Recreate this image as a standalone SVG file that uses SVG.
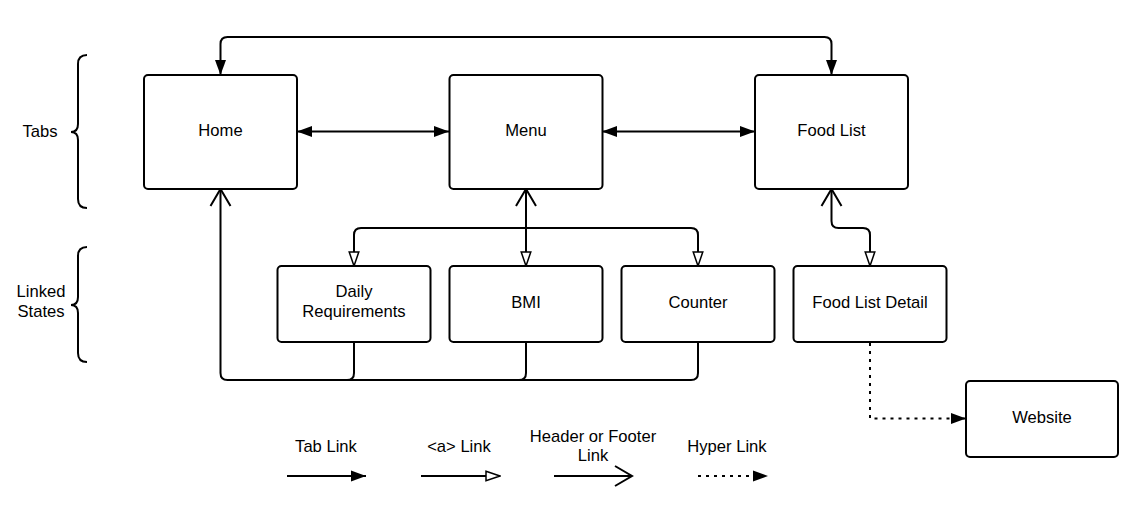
<svg xmlns="http://www.w3.org/2000/svg" width="1147" height="513" viewBox="0 0 1147 513">
<style>
.box{fill:#fff;stroke:#000;stroke-width:2}
.ln{fill:none;stroke:#000;stroke-width:2}
.dot{fill:none;stroke:#000;stroke-width:2;stroke-dasharray:3 5}
text{font-family:"Liberation Sans",Arial,sans-serif;font-size:16.6px;fill:#000;text-anchor:middle}
</style>
<defs>
<marker id="tab" markerUnits="userSpaceOnUse" viewBox="0 0 15 12" refX="15" refY="6" markerWidth="15" markerHeight="12" orient="auto-start-reverse"><path d="M0,0.5 L15,6 L0,11.5 z" fill="#000"/></marker>
<marker id="alink" markerUnits="userSpaceOnUse" viewBox="0 0 16 12" refX="15" refY="6" markerWidth="16" markerHeight="12" orient="auto-start-reverse"><path d="M1,1.2 L15,6 L1,10.8 z" fill="#fff" stroke="#000" stroke-width="1.5"/></marker>
<marker id="hf" markerUnits="userSpaceOnUse" viewBox="0 0 20 24" refX="18" refY="12" markerWidth="20" markerHeight="24" orient="auto-start-reverse"><path d="M1,2 L18,12 L1,22" fill="none" stroke="#000" stroke-width="2"/></marker>
</defs>

<g id="braces" class="ln">
<path class="ln" d="M87,55 Q78,55 78,64 L78,124 Q78,132 71,132 Q78,132 78,140 L78,199 Q78,208 87,208"/>
<path class="ln" d="M87,247 Q78,247 78,256 L78,297 Q78,305 71,305 Q78,305 78,313 L78,353 Q78,362 87,362"/>
</g>
<text x="40" y="137">Tabs</text>
<text x="41" y="297">Linked</text>
<text x="41" y="317">States</text>

<g id="connectors">
<path class="ln" d="M220.5,75 L220.5,44 Q220.5,37 227.5,37 L824.5,37 Q831.5,37 831.5,44 L831.5,75" marker-start="url(#tab)" marker-end="url(#tab)"/>
<path class="ln" d="M297,131.5 L449,131.5" marker-start="url(#tab)" marker-end="url(#tab)"/>
<path class="ln" d="M602,131.5 L755,131.5" marker-start="url(#tab)" marker-end="url(#tab)"/>
<path class="ln" d="M526,189 L526,266" marker-start="url(#hf)" marker-end="url(#alink)"/>
<path class="ln" d="M354,266 L354,235 Q354,228 361,228 L691,228 Q698,228 698,235 L698,266" marker-start="url(#alink)" marker-end="url(#alink)"/>
<path class="ln" d="M831.5,189 L831.5,221 Q831.5,228 838.5,228 L863,228 Q870,228 870,235 L870,266" marker-start="url(#hf)" marker-end="url(#alink)"/>
<path class="ln" d="M220.5,189 L220.5,373 Q220.5,380 227.5,380 L691,380 Q698,380 698,373 L698,342" marker-start="url(#hf)"/>
<path class="ln" d="M354,342 L354,373 Q354,380 347,380"/>
<path class="ln" d="M526,342 L526,373 Q526,380 519,380"/>
<path class="dot" d="M870,343 L870,418.5 L966,418.5" marker-end="url(#tab)"/>
</g>

<g id="home"><rect class="box" x="144" y="75" width="153" height="114" rx="4"/><text x="220.5" y="136">Home</text></g>
<g id="menu"><rect class="box" x="449.5" y="75" width="153" height="114" rx="4"/><text x="526" y="136">Menu</text></g>
<g id="foodlist"><rect class="box" x="755" y="75" width="153" height="114" rx="4"/><text x="831.5" y="136">Food List</text></g>
<g id="daily"><rect class="box" x="277.5" y="266" width="153" height="76" rx="4"/><text x="354" y="297">Daily</text><text x="354" y="317">Requirements</text></g>
<g id="bmi"><rect class="box" x="449.5" y="266" width="153" height="76" rx="4"/><text x="526" y="308">BMI</text></g>
<g id="counter"><rect class="box" x="621.5" y="266" width="153" height="76" rx="4"/><text x="698" y="308">Counter</text></g>
<g id="detail"><rect class="box" x="793.5" y="266" width="153" height="76" rx="4"/><text x="870" y="308">Food List Detail</text></g>
<g id="website"><rect class="box" x="966" y="381" width="152" height="76" rx="4"/><text x="1042" y="423">Website</text></g>

<g id="legend">
<path class="ln" d="M287,476 L366,476" marker-end="url(#tab)"/>
<path class="ln" d="M421,476 L500,476" marker-end="url(#alink)"/>
<path class="ln" d="M554,476 L632,476" marker-end="url(#hf)"/>
<path class="dot" d="M698,476 L768,476" marker-end="url(#tab)"/>
<text x="326" y="451.5">Tab Link</text>
<text x="459" y="451.5">&lt;a&gt; Link</text>
<text x="593" y="441.5">Header or Footer</text>
<text x="593" y="461">Link</text>
<text x="727" y="451.5">Hyper Link</text>
</g>
</svg>
